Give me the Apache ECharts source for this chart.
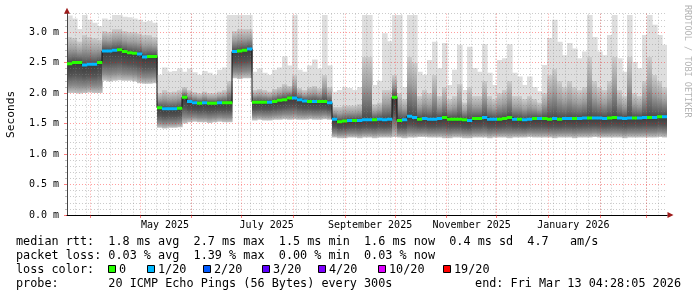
<!DOCTYPE html>
<html><head><meta charset="utf-8">
<script src="https://cdn.jsdelivr.net/npm/echarts@6/dist/echarts.min.js"></script>
<style>html,body{margin:0;padding:0;background:#fff}#c{width:697px;height:297px}</style>
</head><body><div id="c"></div>
<script>
// ---------- time frame ----------
const END = new Date(2026, 2, 13, 4, 28, 5).getTime();
const DAY = 86400000;
const SPAN_DAYS = 360;
const STEP_DAYS = 3;           // one smoke column per 3 days
const START = END - SPAN_DAYS * DAY;

// ---------- data (ms), one value per 3-day column, 120 columns ----------
const medianMs = [
  2.48,2.50,2.50,2.46,2.47,2.47,2.50,
  2.69,2.69,2.70,2.71,2.68,2.66,2.65,2.64,2.59,2.60,2.60,
  1.76,1.74,1.74,1.74,1.75,1.93,
  1.86,1.84,1.83,1.84,1.83,1.83,1.84,1.84,1.84,
  2.68,2.69,2.70,2.72,
  1.85,1.85,1.85,1.85,1.86,1.88,1.89,1.92,1.92,1.89,1.87,1.86,1.86,1.86,1.86,1.84,
  1.57,1.53,1.54,1.55,1.55,1.55,1.56,1.56,1.56,1.57,1.56,1.57,1.93,
  1.55,1.56,1.62,1.60,1.57,1.58,1.57,1.57,1.58,1.60,
  1.57,1.57,1.57,1.56,1.55,1.58,1.58,1.60,1.57,1.57,
  1.57,1.58,1.60,1.57,1.57,1.56,1.57,1.58,1.58,1.58,
  1.57,1.58,1.57,1.58,1.58,1.58,1.58,1.59,1.59,1.59,
  1.59,1.58,1.59,1.60,1.59,1.58,1.59,1.59,1.59,1.60,
  1.60,1.60,1.61,1.61
];
const lowMs = [
  2.00,2.00,1.99,2.00,2.01,2.00,2.00,
  2.20,2.19,2.20,2.21,2.20,2.20,2.19,2.16,2.15,2.15,2.16,
  1.43,1.42,1.43,1.43,1.44,1.50,
  1.52,1.53,1.52,1.52,1.51,1.52,1.53,1.52,1.52,
  2.24,2.23,2.24,2.24,
  1.55,1.56,1.55,1.55,1.56,1.56,1.57,1.56,1.57,1.56,1.56,1.57,1.56,1.56,1.57,1.56,
  1.27,1.26,1.26,1.27,1.27,1.26,1.27,1.27,1.26,1.27,1.27,1.27,1.28,
  1.27,1.26,1.27,1.27,1.28,1.28,1.27,1.27,1.27,1.26,
  1.26,1.27,1.27,1.26,1.26,1.27,1.27,1.27,1.26,1.27,
  1.27,1.27,1.26,1.27,1.27,1.27,1.28,1.27,1.27,1.27,
  1.27,1.26,1.27,1.27,1.27,1.26,1.27,1.27,1.27,1.28,
  1.27,1.27,1.27,1.27,1.27,1.26,1.27,1.27,1.27,1.27,
  1.27,1.27,1.28,1.27
];
const midMs = [
  2.92,2.90,2.85,2.95,2.92,2.90,2.88,
  3.02,3.00,3.05,3.05,3.02,3.00,3.00,2.98,2.95,2.95,2.92,
  2.00,2.05,2.02,2.03,2.05,2.10,
  2.05,2.02,2.00,2.03,2.00,2.00,2.03,2.05,2.20,
  3.02,3.05,3.05,3.05,
  2.05,2.07,2.05,2.03,2.07,2.10,2.15,2.12,2.30,2.08,2.05,2.10,2.12,2.08,2.30,2.10,
  1.78,1.78,1.80,1.80,1.80,1.82,2.60,2.60,1.82,1.85,2.05,2.05,2.30,
  2.00,1.90,2.60,2.50,1.95,2.05,2.00,2.30,1.95,2.10,
  1.90,1.95,2.15,1.85,2.10,1.95,1.95,2.20,1.95,1.90,
  2.00,2.05,2.20,1.95,1.95,1.90,1.95,1.90,1.85,2.00,
  2.30,2.40,2.20,2.10,2.20,2.10,2.05,2.10,2.60,2.20,
  2.10,2.05,2.20,2.60,2.05,1.95,2.60,2.00,1.95,2.20,
  2.60,2.30,2.20,2.10
];
const highMs = [
  3.27,3.22,3.05,3.28,3.20,3.15,3.10,
  3.22,3.20,3.28,3.28,3.25,3.24,3.22,3.20,3.17,3.18,3.15,
  2.30,2.42,2.35,2.36,2.40,2.35,
  2.40,2.34,2.30,2.36,2.33,2.30,2.38,2.42,3.28,
  3.28,3.28,3.28,3.28,
  2.35,2.40,2.33,2.30,2.38,2.42,2.60,2.45,3.28,2.38,2.35,2.45,2.55,2.40,3.28,2.45,
  2.02,2.05,2.10,2.08,2.05,2.10,3.28,3.28,2.13,2.20,2.98,2.85,3.28,
  3.28,2.10,3.28,3.28,2.35,2.30,2.54,2.84,2.41,2.82,
  2.13,2.38,2.79,2.05,2.76,2.41,2.35,2.80,2.33,2.13,
  2.54,2.57,2.80,2.33,2.27,2.13,2.27,2.10,2.03,2.46,
  2.90,3.20,2.84,2.62,2.82,2.73,2.57,2.68,3.28,2.92,
  2.68,2.62,2.95,3.28,2.57,2.35,3.28,2.51,2.41,2.95,
  3.28,3.12,2.95,2.79
];
// lost pings out of 20 per column (0 -> green, 1 -> 1/20 colour)
const lossOf20 = [
  0,0,0,1,1,1,0,
  1,1,1,0,0,0,0,1,1,0,0,
  0,1,1,1,0,0,
  1,1,0,1,0,0,1,0,0,
  1,0,0,1,
  0,0,0,1,0,0,0,0,1,1,1,0,1,0,0,1,
  1,0,0,1,0,1,1,1,0,1,1,1,0,
  0,1,1,1,0,1,1,1,1,0,
  0,0,0,0,1,0,0,1,1,1,
  0,0,0,1,0,1,1,0,1,0,
  0,1,0,1,1,0,1,1,0,1,
  1,1,0,0,1,1,1,0,1,1,
  0,1,0,1
];

// ---------- labels ----------
const monthLabels = ['May 2025', 'July 2025', 'September 2025', 'November 2025', 'January 2026'];
const monthLabelDays = [[2025,4,16],[2025,6,16],[2025,8,16],[2025,10,16],[2026,0,16]];
const yMajorTicks = [0, 0.5, 1.0, 1.5, 2.0, 2.5, 3.0];
const legendLines = [
  'median rtt:  1.8 ms avg  2.7 ms max  1.5 ms min  1.6 ms now  0.4 ms sd  4.7   am/s',
  'packet loss: 0.03 % avg  1.39 % max  0.00 % min  0.03 % now',
  'loss color:',
  'probe:       20 ICMP Echo Pings (56 Bytes) every 300s'
];
const endText = 'end: Fri Mar 13 04:28:05 2026';
const lossLegendLabels = ['0', '1/20', '2/20', '3/20', '4/20', '10/20', '19/20'];
const lossLegendColors = ['#26ff00', '#00b8ff', '#0059ff', '#5e00ff', '#7e00ff', '#dd00ff', '#ff0000'];
const lossColorByCount = {0: '#26ff00', 1: '#00b8ff'};

// ---------- derived grid positions ----------
const monthStarts = [];
for (let k = 0; k < 12; k++) monthStarts.push(new Date(2025, 3 + k, 1).getTime());
const weekLines = [];
for (let t = new Date(2025, 2, 23).getTime(); t < END; t += 7 * DAY) weekLines.push(t);
const monthLabelTimes = monthLabelDays.map(d => new Date(d[0], d[1], d[2]).getTime());
const yMinorTicks = [];
for (let k = 1; k <= 33; k++) if (k % 5 !== 0) yMinorTicks.push(k / 10);

const colTime = i => START + i * STEP_DAYS * DAY;
const smokeData = medianMs.map((m, i) => [colTime(i), lowMs[i], m, midMs[i], highMs[i]]);
const medData = medianMs.map((m, i) => [colTime(i), m, lossOf20[i]]);
const stepLine = medianMs.map((m, i) => [colTime(i), m]);
stepLine.push([END, medianMs[medianMs.length - 1]]);

const MONO = 'DejaVu Sans Mono';
const gradUp = () => new echarts.graphic.LinearGradient(0, 0, 0, 1, [
  {offset: 0, color: '#cdcdcd'}, {offset: 0.45, color: '#a0a0a0'},
  {offset: 0.8, color: '#6a6a6a'}, {offset: 1, color: '#474747'}]);
const gradDown = () => new echarts.graphic.LinearGradient(0, 0, 0, 1, [
  {offset: 0, color: '#3a3a3a'}, {offset: 0.4, color: '#545454'},
  {offset: 0.75, color: '#8a8a8a'}, {offset: 1, color: '#c6c6c6'}]);

function renderSmoke(params, api) {
  const t = api.value(0);
  const lo = api.value(1), med = api.value(2), mid = api.value(3), hi = api.value(4);
  const pHi = api.coord([t, hi]);
  const pLo = api.coord([t + STEP_DAYS * DAY, lo]);
  const yMed = api.coord([t, med])[1];
  const yMid = api.coord([t, mid])[1];
  const x0 = pHi[0], w = pLo[0] - pHi[0] + 0.6;
  return {type: 'group', children: [
    {type: 'rect', shape: {x: x0, y: pHi[1], width: w, height: Math.max(0, yMid - pHi[1])}, style: {fill: '#dedede'}},
    {type: 'rect', shape: {x: x0, y: yMid, width: w, height: Math.max(0, yMed - yMid)}, style: {fill: gradUp()}},
    {type: 'rect', shape: {x: x0, y: yMed, width: w, height: Math.max(0, pLo[1] - yMed)}, style: {fill: gradDown()}}
  ]};
}
function renderMedian(params, api) {
  const t = api.value(0), m = api.value(1), loss = api.value(2);
  const p0 = api.coord([t, m]);
  const p1 = api.coord([t + STEP_DAYS * DAY, m]);
  return {type: 'rect', shape: {x: p0[0], y: p0[1] - 1.5, width: p1[0] - p0[0] + 0.3, height: 3},
          style: {fill: lossColorByCount[loss] || '#00b8ff'}};
}

const ARROW = '#9e1b1b';
const gridLineMajor = {show: true, lineStyle: {color: 'rgba(255,0,0,0.38)', type: [1, 2], width: 1}};
const gridLineMinor = {show: true, lineStyle: {color: 'rgba(130,130,130,0.42)', type: [1, 2], width: 1}};

const graphics = [];
legendLines.forEach((s, k) => {
  graphics.push({type: 'text', left: 16, top: 236 + 14 * k, silent: true,
    style: {text: s, font: '11.8px "' + MONO + '"', fill: '#000'}});
});
graphics.push({type: 'text', right: 16, top: 236 + 14 * 3, silent: true,
  style: {text: endText, font: '11.8px "' + MONO + '"', fill: '#000'}});
const sqX = [108, 147, 203, 262, 318, 378, 443];
lossLegendLabels.forEach((lab, k) => {
  graphics.push({type: 'rect', shape: {x: sqX[k] + 0.5, y: 265.5, width: 7, height: 7}, silent: true,
    style: {fill: lossLegendColors[k], stroke: '#000', lineWidth: 1}});
  graphics.push({type: 'text', x: sqX[k] + 11, y: 264, silent: true,
    style: {text: lab, font: '11.8px "' + MONO + '"', fill: '#000'}});
});
graphics.push({type: 'text', x: 692, y: 5, rotation: -Math.PI / 2, silent: true,
  style: {text: 'RRDTOOL / TOBI OETIKER', font: '8.5px "' + MONO + '"', fill: '#b4b4b4'}});

const chart = echarts.init(document.getElementById('c'), null, {renderer: 'canvas'});
chart.setOption({
  animation: false,
  backgroundColor: '#ffffff',
  grid: {left: 67, right: 30, top: 13.7, bottom: 82, containLabel: false, outerBoundsMode: 'none'},
  xAxis: [
    {type: 'value', position: 'bottom', min: START, max: END, z: 4,
     axisLine: {show: true, onZero: false, lineStyle: {color: '#000', width: 1}},
     axisTick: {show: true, customValues: monthStarts, length: 3, lineStyle: {color: 'rgba(255,0,0,0.5)'}},
     axisLabel: {show: true, customValues: monthLabelTimes, margin: 5, fontFamily: MONO, fontSize: 10, color: '#000',
       hideOverlap: false, showMinLabel: true, showMaxLabel: true,
       formatter: (v) => { const k = monthLabelTimes.indexOf(+v); return k >= 0 ? monthLabels[k] : ''; }},
     splitLine: gridLineMajor},
    {type: 'value', position: 'bottom', min: START, max: END, z: 3,
     axisLine: {show: true, onZero: false, lineStyle: {color: ARROW, width: 1}, symbol: ['none', 'triangle'], symbolSize: [6, 6], symbolOffset: [0, 3.5]},
     axisTick: {show: false, customValues: weekLines},
     axisLabel: {show: false},
     splitLine: gridLineMinor}
  ],
  yAxis: [
    {type: 'value', position: 'left', min: 0, max: 3.3, z: 4,
     name: 'Seconds', nameLocation: 'middle', nameGap: 50, nameRotate: 90,
     nameTextStyle: {fontFamily: MONO, fontSize: 11.2, color: '#000'},
     axisLine: {show: true, onZero: false, lineStyle: {color: '#444', width: 1}},
     axisTick: {show: true, customValues: yMajorTicks, length: 3, lineStyle: {color: 'rgba(255,0,0,0.5)'}},
     axisLabel: {show: true, customValues: yMajorTicks, margin: 8, fontFamily: MONO, fontSize: 10, color: '#000',
       formatter: v => (+v).toFixed(1) + ' m'},
     splitLine: gridLineMajor},
    {type: 'value', position: 'left', min: 0, max: 3.3, z: 3,
     axisLine: {show: true, onZero: false, lineStyle: {color: ARROW, width: 1}, symbol: ['none', 'triangle'], symbolSize: [6, 6], symbolOffset: [0, 3]},
     axisTick: {show: true, customValues: yMinorTicks, length: 2, lineStyle: {color: 'rgba(130,130,130,0.5)'}},
     axisLabel: {show: false},
     splitLine: gridLineMinor}
  ],
  series: [
    {type: 'custom', name: 'smoke', xAxisIndex: 0, yAxisIndex: 0, z: 1, silent: true,
     renderItem: renderSmoke, data: smokeData, encode: {x: 0, y: [1, 2, 3, 4]}, clip: true},
    {type: 'line', name: 'median', xAxisIndex: 0, yAxisIndex: 0, z: 5, silent: true,
     data: stepLine, step: 'end', symbol: 'none', lineStyle: {color: '#111', width: 1}},
    {type: 'custom', name: 'loss', xAxisIndex: 0, yAxisIndex: 0, z: 6, silent: true,
     renderItem: renderMedian, data: medData, encode: {x: 0, y: 1}, clip: true}
  ],
  graphic: graphics
});
</script>
</body></html>
